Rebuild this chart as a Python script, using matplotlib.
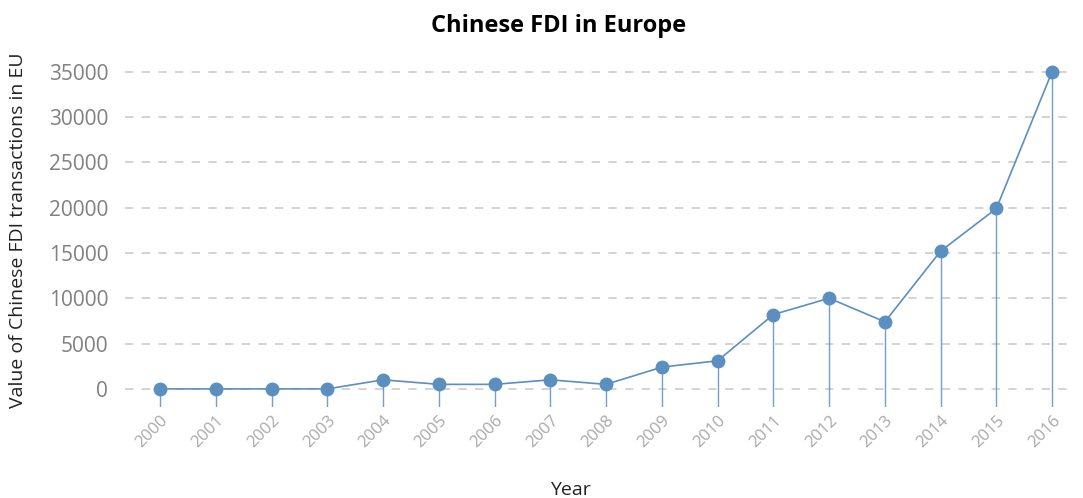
import matplotlib
matplotlib.use("Agg")
import matplotlib.pyplot as plt

years = [2000, 2001, 2002, 2003, 2004, 2005, 2006, 2007, 2008,
         2009, 2010, 2011, 2012, 2013, 2014, 2015, 2016]
values = [0, 0, 0, 0, 1000, 500, 500, 1000, 500,
          2400, 3100, 8200, 10000, 7400, 15200, 19900, 35000]
yticks = [0, 5000, 10000, 15000, 20000, 25000, 30000, 35000]

plt.rcParams['font.family'] = ['Open Sans', 'DejaVu Sans']
color = '#5a8fc0'

fig = plt.figure(figsize=(10.83, 4.98), dpi=100)
ax = fig.add_axes([0.1154, 0.1827, 0.8772, 0.7008])

ymin = -2000
ax.set_ylim(ymin, 36500)
ax.set_xlim(1999.37, 2016.41)

ax.vlines(years, ymin, values, color=color, linewidth=1.0, alpha=0.85, zorder=2)
ax.plot(years, values, color=color, linewidth=1.2, marker='o', markersize=9,
        markeredgecolor=color, zorder=3)

for y in yticks:
    ax.axhline(y, color='#cccccc', linewidth=1.2, linestyle=(0, (5, 5)), zorder=1)

ax.set_yticks(yticks)
ax.set_yticklabels([str(v) for v in yticks], fontsize=15, color='#808080')
ax.set_xticks(years)
ax.set_xticklabels([str(y) for y in years], rotation=45, ha='right', va='top',
                   rotation_mode='anchor', fontsize=12, color='#a8a8a8')
ax.tick_params(axis='both', length=0)
ax.tick_params(axis='y', pad=12)
ax.tick_params(axis='x', pad=4)

for s in ax.spines.values():
    s.set_visible(False)

ax.set_ylabel('Value of Chinese FDI transactions in EU', fontsize=14, color='#222222')
ax.yaxis.set_label_coords(-0.103, 0.507)
ax.set_xlabel('Year', fontsize=14, color='#222222')
ax.xaxis.set_label_coords(0.469, -0.212)
ax.set_title('Chinese FDI in Europe', fontsize=17, fontweight='bold', color='black',
             x=0.456, y=1.0, pad=19)

fig.savefig('out.png', dpi=100)
